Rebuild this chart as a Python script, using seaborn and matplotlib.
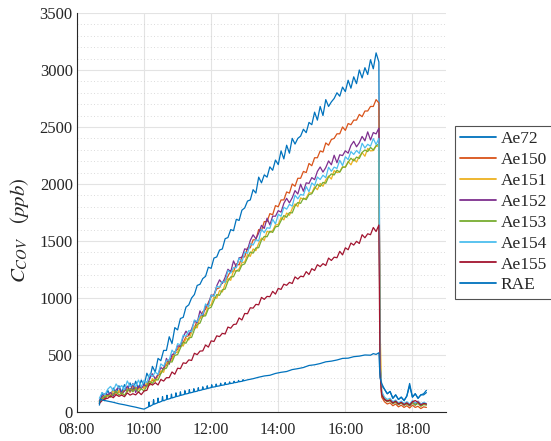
import numpy as np
import pandas as pd
import matplotlib
matplotlib.use("Agg")
import matplotlib.pyplot as plt
import matplotlib.dates as mdates
from matplotlib.ticker import MultipleLocator
from matplotlib.lines import Line2D
import seaborn as sns

# ---------------------------------------------------------------------------
# Sensor readings (ppb).  Day part: one sample every 5 min from 08:40 to 17:00,
# rows grouped by hour (08:40-08:55, 09:00-09:55, ..., 16:00-16:55, 17:00).
# After part: samples at after_clock, once the chamber is opened.
# ---------------------------------------------------------------------------
sensors = ["Ae72", "Ae150", "Ae151", "Ae152", "Ae153", "Ae154", "Ae155", "RAE"]
colors = ["#0072BD", "#D95319", "#EDB120", "#7E2F8E", "#77AC30", "#4DBEEE", "#A2142F", "#0072BD"]

after_clock = ["17:02", "17:05", "17:10", "17:15", "17:20", "17:25", "17:30", "17:35", "17:40",
               "17:45", "17:50", "17:55", "18:00", "18:05", "18:10", "18:15", "18:20", "18:25"]

ae72_day = [60, 170, 120, 190,
            140, 210, 160, 230, 170, 240, 185, 255, 190, 270, 200, 280,
            230, 340, 290, 400, 350, 470, 450, 540, 540, 660, 600, 740,
            720, 820, 830, 920, 940, 1000, 1030, 1110, 1120, 1170, 1190, 1270,
            1260, 1350, 1360, 1420, 1430, 1520, 1530, 1600, 1590, 1690, 1680, 1770,
            1790, 1850, 1860, 1950, 1920, 2060, 2010, 2080, 2060, 2150, 2120, 2210,
            2170, 2290, 2220, 2340, 2270, 2400, 2350, 2400, 2420, 2480, 2450, 2540,
            2520, 2630, 2560, 2680, 2600, 2740, 2680, 2720, 2750, 2800, 2770, 2850,
            2810, 2910, 2840, 2940, 2880, 3000, 2930, 3020, 2960, 3090, 3010, 3150,
            3070]
ae72_after = [420, 230, 200, 160, 180, 120, 150, 110, 130, 100, 140, 230, 130, 160, 120, 150, 150, 170]

ae150_day = [80, 120, 110, 150,
             135, 165, 150, 180, 165, 195, 180, 205, 190, 215, 200, 225,
             215, 240, 235, 280, 270, 320, 340, 390, 410, 460, 470, 530,
             550, 590, 610, 660, 670, 720, 740, 800, 820, 880, 900, 960,
             1010, 1030, 1080, 1090, 1140, 1150, 1190, 1240, 1230, 1300, 1290, 1360,
             1360, 1440, 1440, 1510, 1510, 1600, 1590, 1670, 1670, 1740, 1730, 1810,
             1800, 1860, 1860, 1930, 1920, 2000, 1980, 2050, 2050, 2110, 2100, 2180,
             2160, 2230, 2230, 2290, 2280, 2360, 2340, 2390, 2400, 2440, 2440, 2500,
             2470, 2530, 2520, 2560, 2560, 2610, 2590, 2640, 2640, 2680, 2680, 2740,
             2710]
ae150_after = [380, 130, 90, 70, 80, 55, 70, 45, 60, 40, 55, 35, 60, 40, 50, 30, 45, 40]

ae151_day = [95, 125, 150, 140,
             150, 190, 150, 190, 150, 190, 210, 170, 230, 200, 195, 225,
             205, 261, 237, 293, 268, 324, 360, 348, 437, 435, 458, 517,
             525, 592, 578, 645, 632, 698, 745, 738, 832, 835, 863, 927,
             940, 1008, 997, 1065, 1053, 1122, 1170, 1155, 1240, 1235, 1255, 1310,
             1315, 1380, 1365, 1430, 1415, 1480, 1525, 1505, 1585, 1575, 1590, 1640,
             1645, 1705, 1685, 1745, 1725, 1785, 1825, 1802, 1878, 1865, 1877, 1923,
             1920, 1975, 1950, 2005, 1980, 2035, 2070, 2043, 2117, 2100, 2108, 2152,
             2145, 2197, 2168, 2220, 2192, 2243, 2275, 2243, 2312, 2290, 2293, 2332,
             2330]
ae151_after = [745, 170, 120, 100, 110, 80, 95, 70, 85, 65, 80, 60, 90, 70, 80, 55, 70, 65]

ae152_day = [100, 135, 160, 150,
             171, 138, 195, 219, 159, 184, 227, 180, 250, 171, 228, 207,
             239, 222, 295, 335, 290, 331, 390, 371, 470, 419, 504, 512,
             581, 575, 658, 709, 676, 727, 797, 783, 887, 841, 931, 944,
             1026, 1021, 1107, 1159, 1127, 1181, 1252, 1230, 1325, 1271, 1353, 1357,
             1431, 1423, 1505, 1554, 1519, 1569, 1637, 1610, 1700, 1641, 1718, 1717,
             1766, 1753, 1830, 1874, 1834, 1879, 1942, 1912, 1998, 1936, 2010, 2005,
             2056, 2038, 2110, 2149, 2104, 2144, 2202, 2168, 2252, 2186, 2256, 2249,
             2291, 2270, 2338, 2374, 2326, 2362, 2417, 2378, 2457, 2386, 2451, 2439,
             2490]
ae152_after = [420, 160, 110, 95, 100, 75, 90, 65, 80, 60, 75, 55, 85, 60, 95, 70, 80, 70]

ae153_day = [90, 120, 135, 145,
             129, 158, 183, 148, 169, 146, 187, 200, 177, 206, 175, 204,
             184, 229, 270, 251, 287, 280, 337, 378, 384, 441, 438, 496,
             504, 560, 611, 603, 651, 654, 722, 768, 779, 841, 843, 906,
             919, 976, 1030, 1023, 1072, 1078, 1147, 1185, 1187, 1241, 1235, 1289,
             1299, 1353, 1403, 1393, 1439, 1441, 1507, 1540, 1537, 1586, 1575, 1624,
             1629, 1678, 1723, 1708, 1749, 1746, 1807, 1837, 1830, 1876, 1862, 1907,
             1914, 1958, 1998, 1978, 2014, 2006, 2062, 2088, 2079, 2121, 2103, 2146,
             2149, 2190, 2226, 2203, 2236, 2224, 2277, 2298, 2284, 2321, 2298, 2336,
             2350]
ae153_after = [400, 150, 110, 90, 100, 75, 85, 65, 80, 60, 70, 55, 80, 60, 75, 50, 65, 60]

ae154_day = [120, 170, 150, 200,
             224, 187, 246, 209, 232, 195, 272, 223, 246, 221, 280, 219,
             279, 258, 333, 312, 350, 329, 422, 401, 453, 456, 543, 511,
             599, 589, 674, 664, 714, 703, 807, 791, 848, 856, 948, 921,
             1024, 1015, 1103, 1094, 1145, 1137, 1242, 1218, 1266, 1266, 1350, 1314,
             1404, 1392, 1476, 1464, 1512, 1500, 1602, 1573, 1616, 1611, 1690, 1649,
             1734, 1717, 1796, 1779, 1822, 1805, 1902, 1870, 1909, 1901, 1977, 1932,
             2009, 1987, 2061, 2039, 2077, 2055, 2147, 2111, 2148, 2136, 2208, 2161,
             2239, 2214, 2284, 2259, 2294, 2268, 2357, 2316, 2348, 2331, 2398, 2346,
             2400]
ae154_after = [450, 180, 130, 110, 120, 90, 105, 80, 95, 75, 90, 70, 100, 80, 90, 65, 85, 75]

ae155_day = [75, 100, 115, 120,
             140, 125, 152, 137, 148, 134, 168, 148, 160, 150, 176, 152,
             184, 190, 251, 236, 257, 237, 285, 271, 301, 301, 351, 331,
             384, 380, 431, 426, 457, 452, 515, 503, 534, 536, 588, 569,
             624, 618, 668, 661, 690, 684, 745, 735, 767, 771, 825, 807,
             864, 862, 914, 911, 944, 940, 1005, 988, 1014, 1011, 1058, 1034,
             1084, 1075, 1121, 1111, 1137, 1127, 1185, 1166, 1191, 1186, 1231, 1206,
             1257, 1241, 1292, 1275, 1301, 1285, 1350, 1329, 1358, 1353, 1409, 1378,
             1440, 1423, 1482, 1464, 1497, 1478, 1555, 1528, 1563, 1555, 1618, 1583,
             1640]
ae155_after = [350, 150, 110, 95, 105, 80, 95, 70, 85, 65, 80, 60, 90, 100, 85, 60, 75, 70]

# Reference analyser: irregular timestamps (short calibration spikes every 8 min)
rae_clock = ["08:40", "08:42", "08:45", "08:55", "09:05", "09:15", "09:25", "09:35", "09:45", "09:55", "10:00",
             "10:08", "10:09", "10:10", "10:16", "10:17", "10:18", "10:24", "10:25", "10:26",
             "10:32", "10:33", "10:34", "10:40", "10:41", "10:42", "10:48", "10:49", "10:50",
             "10:56", "10:57", "10:58", "11:04", "11:05", "11:06", "11:12", "11:13", "11:14",
             "11:20", "11:21", "11:22", "11:28", "11:29", "11:30", "11:36", "11:37", "11:38",
             "11:44", "11:45", "11:46", "11:52", "11:53", "11:54", "12:00", "12:01", "12:02",
             "12:08", "12:09", "12:10", "12:16", "12:17", "12:18", "12:24", "12:25", "12:26",
             "12:32", "12:33", "12:34", "12:40", "12:41", "12:42", "12:48", "12:49", "12:50",
             "12:56", "12:57", "12:58",
             "13:05", "13:15", "13:25", "13:35", "13:45", "13:55", "14:05", "14:15", "14:25",
             "14:35", "14:45", "14:55", "15:05", "15:15", "15:25", "15:35", "15:45", "15:55",
             "16:05", "16:15", "16:25", "16:35", "16:45", "16:50", "16:55", "17:00"]
rae_day = [75, 115, 105, 95, 85, 72, 63, 52, 42, 30, 25,
           45, 88, 48, 65, 108, 68, 80, 122, 83,
           95, 135, 98, 108, 147, 111, 120, 157, 123,
           132, 168, 135, 143, 177, 146, 154, 187, 157,
           164, 196, 167, 174, 204, 177, 184, 213, 187,
           194, 221, 197, 204, 230, 207, 214, 239, 217,
           222, 245, 225, 230, 252, 233, 238, 258, 241,
           246, 264, 249, 254, 270, 257, 262, 277, 265,
           270, 284, 273,
           282, 292, 305, 316, 322, 338, 348, 355, 372,
           380, 390, 408, 414, 425, 440, 446, 456, 470,
           472, 485, 490, 500, 498, 512, 505, 520]
rae_after = [300, 250, 200, 160, 180, 120, 150, 110, 130, 100, 140, 250, 130, 160, 120, 150, 160, 190]

# ---------------------------------------------------------------------------
day0 = "2021-03-15 "
start = pd.Timestamp(day0 + "08:40")
after_ts = pd.to_datetime([day0 + c for c in after_clock])


def five_minute_times(values):
    return start + pd.to_timedelta(np.arange(len(values)) * 5, unit="min")


series = {
    "Ae72": (five_minute_times(ae72_day), ae72_day, ae72_after),
    "Ae150": (five_minute_times(ae150_day), ae150_day, ae150_after),
    "Ae151": (five_minute_times(ae151_day), ae151_day, ae151_after),
    "Ae152": (five_minute_times(ae152_day), ae152_day, ae152_after),
    "Ae153": (five_minute_times(ae153_day), ae153_day, ae153_after),
    "Ae154": (five_minute_times(ae154_day), ae154_day, ae154_after),
    "Ae155": (five_minute_times(ae155_day), ae155_day, ae155_after),
    "RAE": (pd.to_datetime([day0 + c for c in rae_clock]), rae_day, rae_after),
}

frames = []
for name, (t_day, v_day, v_after) in series.items():
    t = list(t_day) + list(after_ts)
    v = list(v_day) + list(v_after)
    frames.append(pd.DataFrame({"time": t, "ppb": v, "sensor": name}))
df = pd.concat(frames, ignore_index=True)

# ---------------------------------------------------------------------------
sns.set_theme(style="white")
plt.rcParams.update({
    "font.family": ["Liberation Serif", "DejaVu Serif"],
    "mathtext.fontset": "stix",
    "font.size": 12,
    "axes.linewidth": 0.8,
    "xtick.direction": "in",
    "ytick.direction": "in",
})

fig = plt.figure(figsize=(5.51, 4.41), dpi=100)
ax = fig.add_axes([0.1397, 0.0658, 0.6697, 0.9048])

palette = dict(zip(sensors, colors))
sns.lineplot(data=df, x="time", y="ppb", hue="sensor", hue_order=sensors,
             palette=palette, estimator=None, linewidth=0.9, ax=ax, legend=False)

ax.set_xlim(pd.Timestamp(day0 + "08:00"), pd.Timestamp(day0 + "19:00"))
ax.set_ylim(0, 3500)
ax.xaxis.set_major_locator(mdates.HourLocator(byhour=range(8, 20, 2)))
ax.xaxis.set_major_formatter(mdates.DateFormatter("%H:%M"))
ax.yaxis.set_major_locator(MultipleLocator(500))
ax.yaxis.set_minor_locator(MultipleLocator(100))

ax.grid(True, which="major", color="#e3e3e3", linewidth=0.8, linestyle="-")
ax.grid(True, which="minor", axis="y", color="#cfcfcf", linewidth=0.6, linestyle=(0, (1, 3)))
ax.set_axisbelow(True)

for side in ("top", "right"):
    ax.spines[side].set_visible(False)
for side in ("left", "bottom"):
    ax.spines[side].set_color("#262626")

ax.tick_params(axis="both", which="major", labelsize=12, length=4, width=0.6,
               colors="#262626", labelcolor="#262626")
ax.tick_params(axis="x", which="major", labelsize=11.5, pad=7)
ax.tick_params(axis="y", which="minor", length=0)
ax.tick_params(axis="y", which="major", pad=3)

ax.set_xlabel("")
ax.set_ylabel(r"$C_{COV}\ \ \ (ppb)$", fontsize=15, color="#262626")
ax.yaxis.set_label_coords(-0.125, 0.455)

handles = [Line2D([0], [0], color=c, linewidth=1.3) for c in colors]
leg = fig.legend(handles, sensors, loc="upper left", bbox_to_anchor=(0.825, 0.714),
                 bbox_transform=fig.transFigure, frameon=True, fancybox=False,
                 edgecolor="#262626", fontsize=12.5, handlelength=2.1, handletextpad=0.25,
                 labelspacing=0.27, borderpad=0.3, borderaxespad=0.0)
leg.get_frame().set_linewidth(0.8)

fig.savefig("out.png", dpi=100)
